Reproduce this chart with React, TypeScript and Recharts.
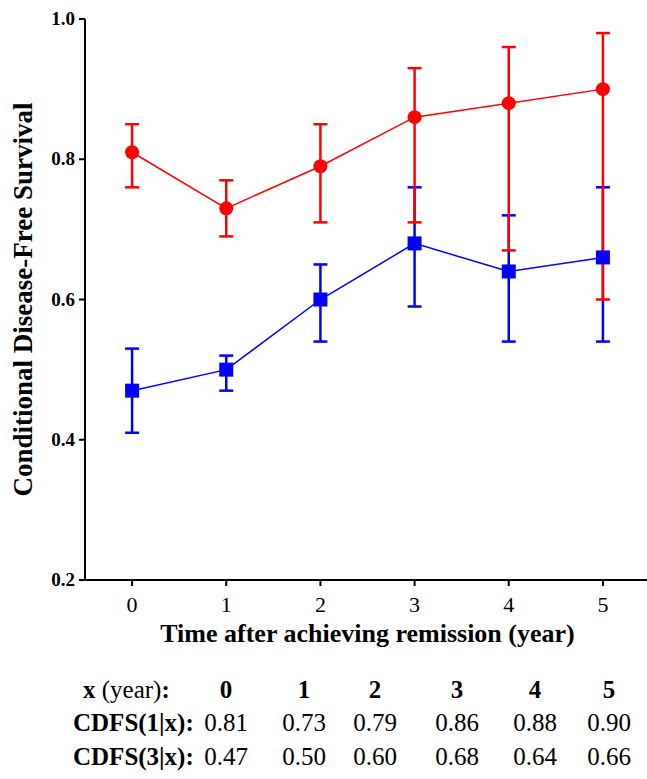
import React from 'react'
import { ComposedChart, Line, XAxis, YAxis, ErrorBar, Label } from 'recharts'

const years = [0, 1, 2, 3, 4, 5]
const cdfs1 = [0.81, 0.73, 0.79, 0.86, 0.88, 0.9]
const cdfs1Low = [0.76, 0.69, 0.71, 0.71, 0.67, 0.6]
const cdfs1High = [0.85, 0.77, 0.85, 0.93, 0.96, 0.98]
const cdfs3 = [0.47, 0.5, 0.6, 0.68, 0.64, 0.66]
const cdfs3Low = [0.41, 0.47, 0.54, 0.59, 0.54, 0.54]
const cdfs3High = [0.53, 0.52, 0.65, 0.76, 0.72, 0.76]
const yTicks = [0.2, 0.4, 0.6, 0.8, 1.0]

const RED = '#ff0000'
const BLUE = '#0000ff'
const FONT = '"Liberation Serif", "Times New Roman", serif'

const data = years.map((year, i) => ({
  year,
  cdfs1: cdfs1[i],
  err1: [cdfs1[i] - cdfs1Low[i], cdfs1High[i] - cdfs1[i]],
  cdfs3: cdfs3[i],
  err3: [cdfs3[i] - cdfs3Low[i], cdfs3High[i] - cdfs3[i]]
}))

// table layout (px from page left / top)
const colX = [226, 304, 375, 457, 535, 609]
const rowY = [690, 723, 757]

const SquareDot = (props: any) => {
  const { cx, cy, index } = props
  if (cx == null || cy == null) return <g key={`sq-${index}`} />
  return <rect key={`sq-${index}`} x={cx - 7} y={cy - 7} width={14} height={14} fill={BLUE} />
}

const XTick = (props: any) => {
  const { x, y, payload } = props
  return (
    <text x={x} y={y} dy={16} textAnchor="middle" fill="#000" fontFamily={FONT} fontSize={22}>
      {payload.value}
    </text>
  )
}

const YTick = (props: any) => {
  const { x, y, payload } = props
  return (
    <text
      x={x}
      y={y}
      dy={6}
      textAnchor="end"
      fill="#000"
      fontFamily={FONT}
      fontSize={19}
      fontWeight="bold"
    >
      {Number(payload.value).toFixed(1)}
    </text>
  )
}

const cell = (x: number, y: number, bold: boolean): React.CSSProperties => ({
  position: 'absolute',
  left: x - 40,
  top: y - 15,
  width: 80,
  textAlign: 'center',
  fontWeight: bold ? 'bold' : 'normal',
  lineHeight: '30px'
})

const rowLabel = (y: number, left: number): React.CSSProperties => ({
  position: 'absolute',
  left,
  top: y - 15,
  fontWeight: 'bold',
  lineHeight: '30px',
  whiteSpace: 'nowrap'
})

export default function App() {
  return (
    <div
      style={{
        position: 'absolute',
        left: 0,
        top: 0,
        width: 647,
        height: 779,
        overflow: 'hidden',
        background: '#fff',
        fontFamily: FONT,
        fontSize: 25,
        color: '#000'
      }}
    >
      <ComposedChart
        width={650}
        height={660}
        data={data}
        margin={{ top: 19, right: 0, left: 0, bottom: 0 }}
      >
        <XAxis
          dataKey="year"
          type="number"
          domain={[-0.5, 5.5]}
          ticks={years}
          height={80}
          stroke="#000"
          strokeWidth={2}
          tickSize={6}
          tickMargin={10}
          tick={<XTick />}
        >
          <Label
            value="Time after achieving remission (year)"
            position="insideBottom"
            offset={18}
            style={{ fontFamily: FONT, fontSize: 26, fontWeight: 'bold', fill: '#000' }}
          />
        </XAxis>
        <YAxis
          type="number"
          domain={[0.2, 1.0]}
          ticks={yTicks}
          width={85}
          stroke="#000"
          strokeWidth={2}
          tickSize={6}
          tickMargin={4}
          tick={<YTick />}
        >
          <Label
            value="Conditional Disease-Free Survival"
            angle={-90}
            position="insideLeft"
            offset={22}
            style={{
              textAnchor: 'middle',
              fontFamily: FONT,
              fontSize: 27,
              fontWeight: 'bold',
              fill: '#000'
            }}
          />
        </YAxis>
        <Line
          dataKey="cdfs3"
          stroke={BLUE}
          strokeWidth={1.5}
          dot={<SquareDot />}
          activeDot={false}
          isAnimationActive={false}
        >
          <ErrorBar dataKey="err3" width={7} stroke={BLUE} strokeWidth={2.5} direction="y" />
        </Line>
        <Line
          dataKey="cdfs1"
          stroke={RED}
          strokeWidth={1.5}
          dot={{ r: 7, fill: RED, stroke: 'none' }}
          activeDot={false}
          isAnimationActive={false}
        >
          <ErrorBar dataKey="err1" width={7} stroke={RED} strokeWidth={2.5} direction="y" />
        </Line>
      </ComposedChart>

      <div style={rowLabel(rowY[0], 83)}>
        x <span style={{ fontWeight: 'normal' }}>(year)</span>:
      </div>
      {years.map((y, i) => (
        <div key={`h${y}`} style={cell(colX[i], rowY[0], true)}>
          {y}
        </div>
      ))}
      <div style={rowLabel(rowY[1], 73)}>CDFS(1|x):</div>
      {cdfs1.map((v, i) => (
        <div key={`a${i}`} style={cell(colX[i], rowY[1], false)}>
          {v.toFixed(2)}
        </div>
      ))}
      <div style={rowLabel(rowY[2], 73)}>CDFS(3|x):</div>
      {cdfs3.map((v, i) => (
        <div key={`b${i}`} style={cell(colX[i], rowY[2], false)}>
          {v.toFixed(2)}
        </div>
      ))}
    </div>
  )
}
